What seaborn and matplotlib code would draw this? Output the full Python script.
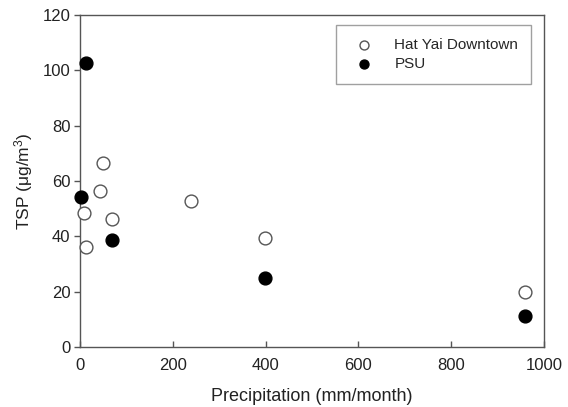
import matplotlib
matplotlib.use("Agg")
import matplotlib.pyplot as plt
import seaborn as sns
import pandas as pd

# Data
hat_yai_precip = [8.6, 12, 43, 49.6, 69, 240, 399, 960]
hat_yai_tsp = [48.3, 36.3, 56.4, 66.5, 46.3, 52.6, 39.5, 19.8]
psu_precip = [3, 12, 69, 399, 960]
psu_tsp = [54.3, 102.5, 38.8, 24.8, 11.2]
series_names = ["Hat Yai Downtown", "PSU"]
x_ticks = [0, 200, 400, 600, 800, 1000]
y_ticks = [0, 20, 40, 60, 80, 100, 120]

sns.set_theme(style="white")
plt.rcParams['font.family'] = ['Liberation Sans', 'DejaVu Sans']
plt.rcParams['mathtext.fontset'] = 'custom'
plt.rcParams['mathtext.rm'] = 'Liberation Sans'
plt.rcParams['mathtext.it'] = 'Liberation Sans'

df_h = pd.DataFrame({"precip": hat_yai_precip, "tsp": hat_yai_tsp})
df_p = pd.DataFrame({"precip": psu_precip, "tsp": psu_tsp})

fig = plt.figure(figsize=(5.68, 4.07), dpi=100)
ax = fig.add_axes([0.1408, 0.1474, 0.8169, 0.8157])

sns.scatterplot(data=df_h, x="precip", y="tsp", ax=ax, s=85, facecolor="white",
                edgecolor="#555555", linewidth=1.0, label=series_names[0], zorder=3,
                clip_on=False)
sns.scatterplot(data=df_p, x="precip", y="tsp", ax=ax, s=85, color="black",
                edgecolor="black", linewidth=1.0, label=series_names[1], zorder=3,
                clip_on=False)

ax.set_xlim(0, 1000)
ax.set_ylim(0, 120)
ax.set_xticks(x_ticks)
ax.set_yticks(y_ticks)
ax.tick_params(axis="x", bottom=True, direction="in", length=4, width=1, color="#555555",
               labelsize=12, pad=8, labelcolor="#222222")
ax.tick_params(axis="y", left=True, direction="out", length=4, width=1, color="#555555",
               labelsize=12, pad=3, labelcolor="#222222")
for sp in ax.spines.values():
    sp.set_color("#555555")
    sp.set_linewidth(1.0)

ax.set_xlabel("Precipitation (mm/month)", fontsize=13, labelpad=11, color="#222222")
ax.set_ylabel("TSP (μg/m$^3$)", fontsize=12.5, labelpad=5, color="#222222")

leg = ax.legend(loc="upper right", bbox_to_anchor=(0.9725, 0.97), frameon=True,
                fancybox=False, edgecolor="#888888", fontsize=11, markerscale=0.7,
                handletextpad=1.0, borderpad=0.85, labelspacing=0.3,
                borderaxespad=0)
leg.get_frame().set_linewidth(1.0)

fig.savefig("out.png", dpi=100)
